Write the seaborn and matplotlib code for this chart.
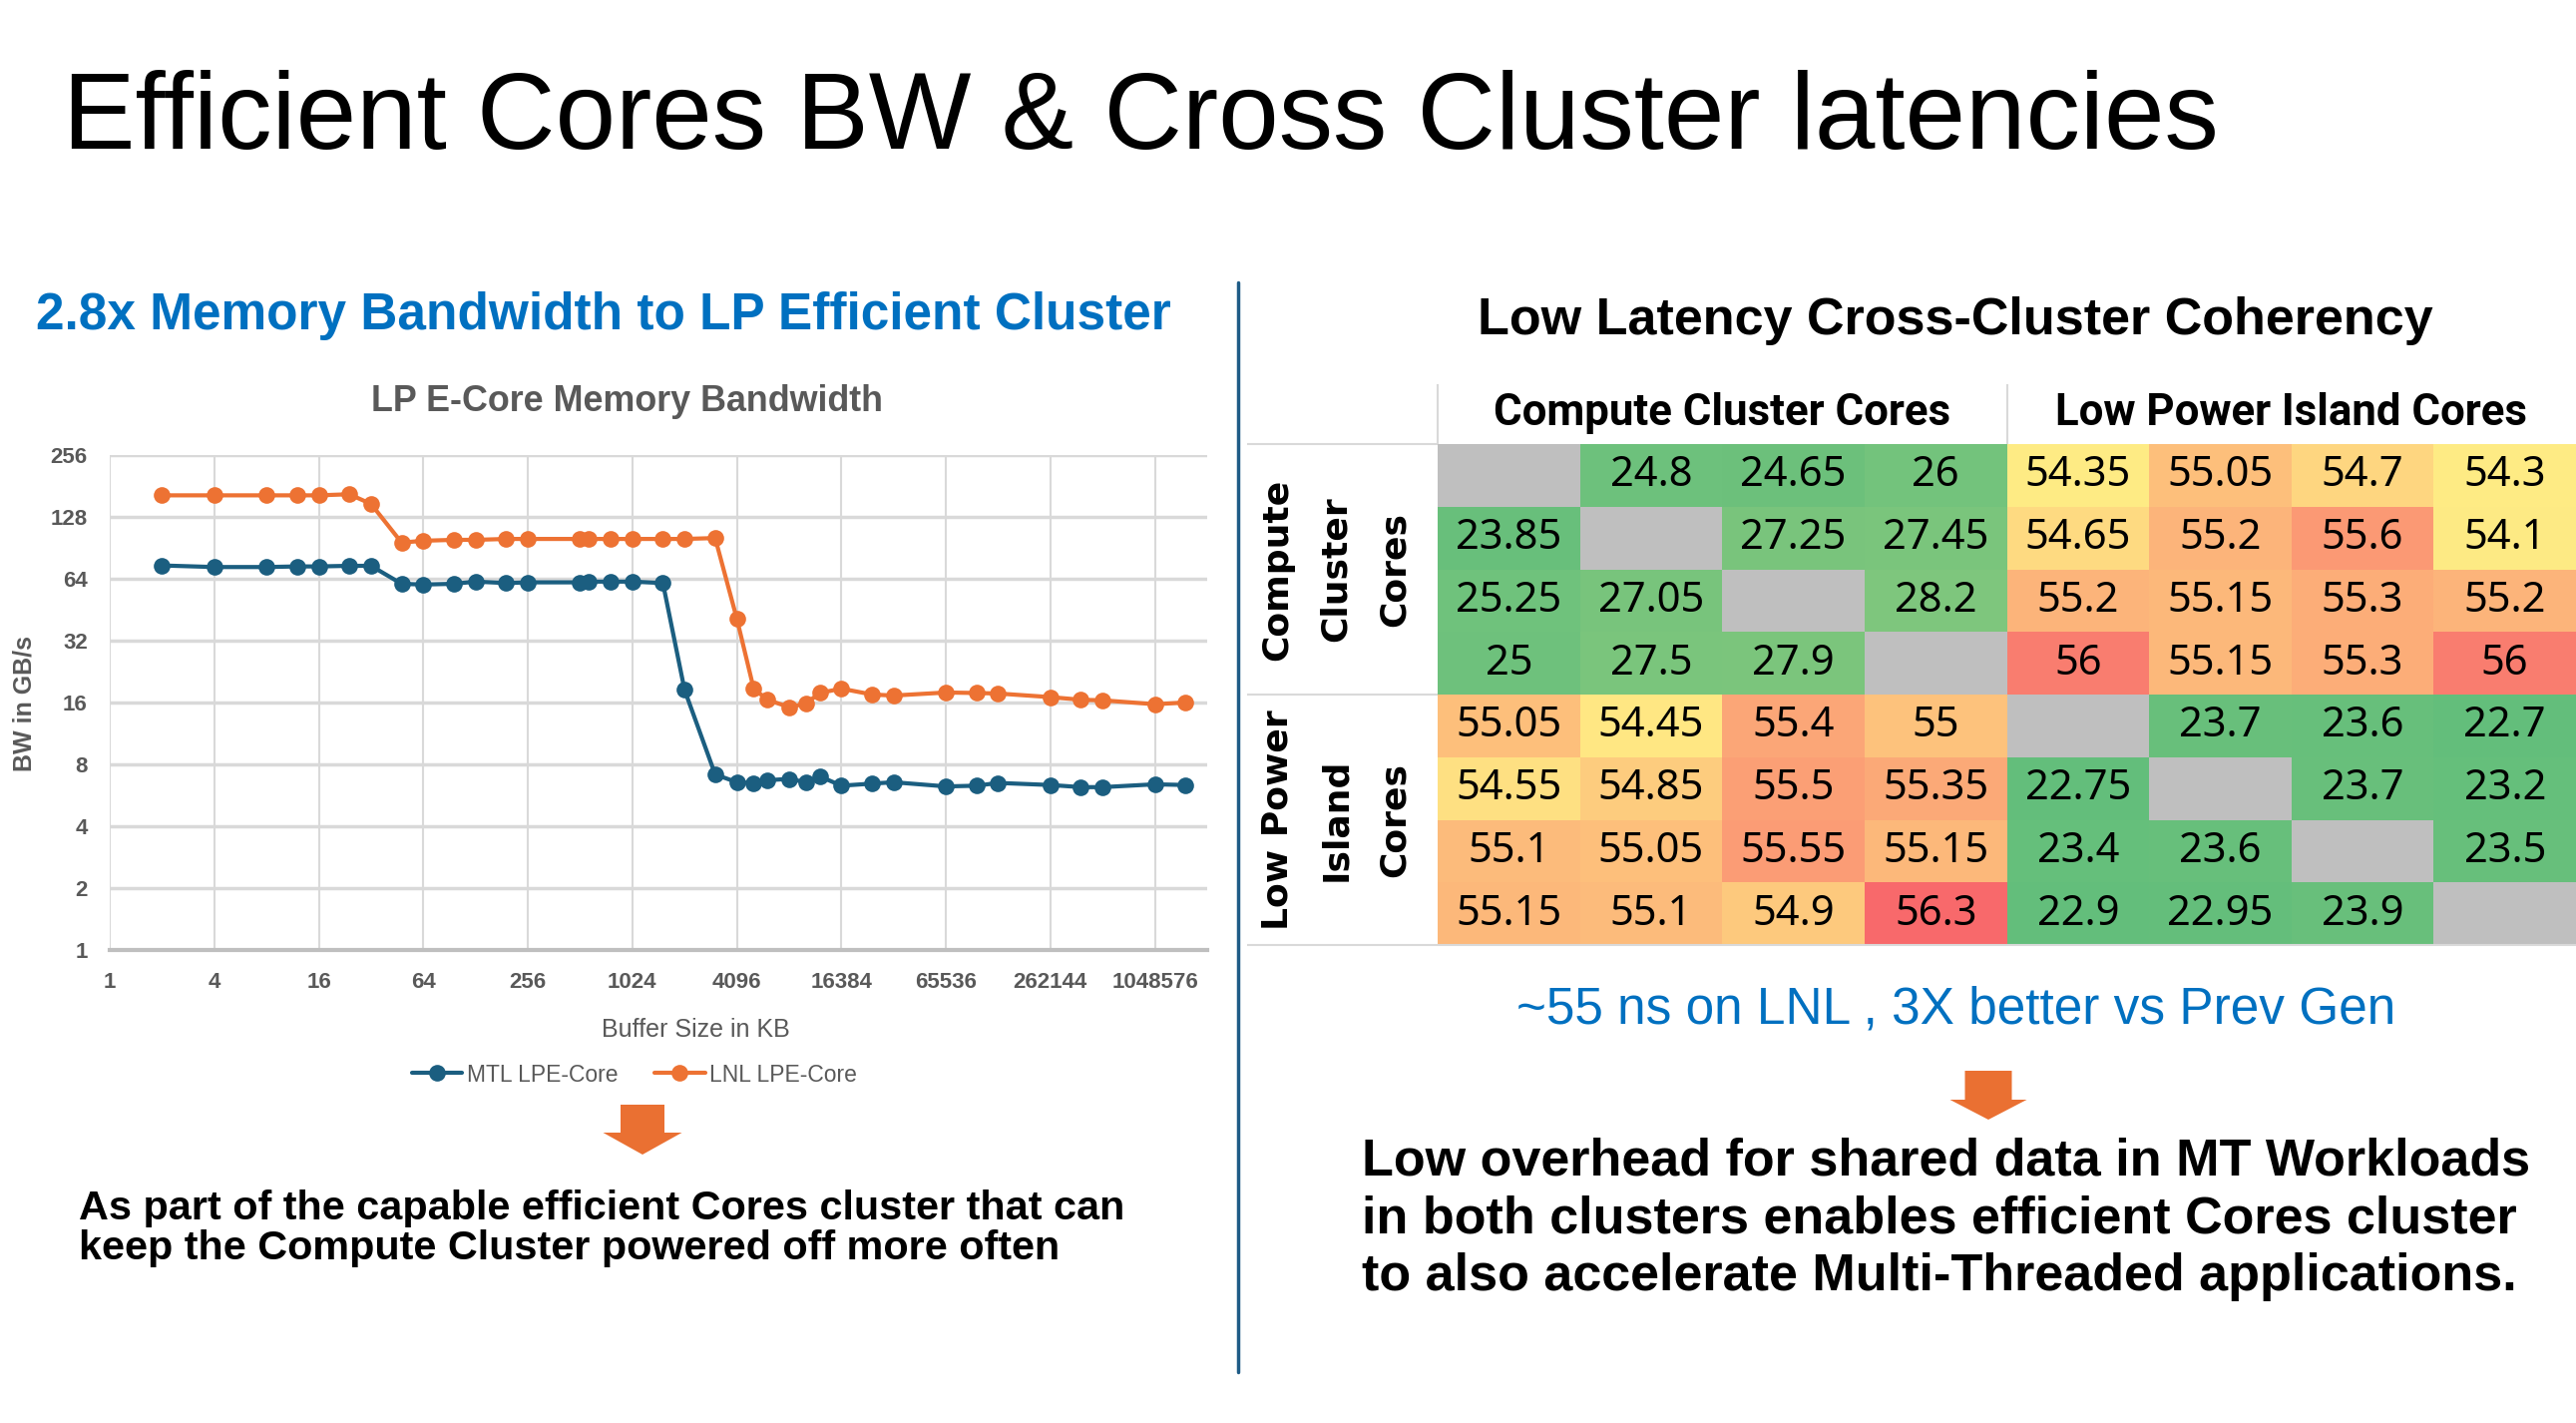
import numpy as np
import matplotlib
matplotlib.use("Agg")
import matplotlib.pyplot as plt
from matplotlib.colors import LinearSegmentedColormap, TwoSlopeNorm
from matplotlib.patches import FancyArrow
from matplotlib.ticker import NullLocator
import seaborn as sns

# --- data ---
buffer_kb = [2, 4, 8, 12, 16, 24, 32, 48, 64, 96, 128, 192, 256, 512, 576, 768,
             1024, 1536, 2048, 3072, 4096, 5120, 6144, 8192, 10240, 12288, 16384,
             24576, 32768, 65536, 98304, 131072, 262144, 393216, 524288,
             1048576, 1572864]
mtl_bw = [74.3, 73, 73, 73.5, 73.5, 74, 74, 60.5, 60, 60.5, 62, 61, 61.5, 61.5,
          62, 62, 62, 61, 18.4, 7.15, 6.55, 6.5, 6.7, 6.8, 6.55, 7.0, 6.3, 6.45,
          6.55, 6.25, 6.3, 6.5, 6.35, 6.2, 6.2, 6.4, 6.35]
lnl_bw = [163, 163, 163, 163, 163, 165, 148, 96, 98, 99, 99, 100, 100, 100, 100,
          100, 100, 100, 100, 101, 40.9, 18.7, 16.5, 15.2, 15.8, 17.8, 18.7, 17.5,
          17.3, 17.9, 17.8, 17.7, 17.0, 16.5, 16.4, 15.7, 16.0]
series_names = ["MTL LPE-Core", "LNL LPE-Core"]
x_ticks = [1, 4, 16, 64, 256, 1024, 4096, 16384, 65536, 262144, 1048576]
y_ticks = [1, 2, 4, 8, 16, 32, 64, 128, 256]

# cross-cluster latency in ns (diagonal left empty)
nan = np.nan
latency = [
    [nan, 24.8, 24.65, 26, 54.35, 55.05, 54.7, 54.3],
    [23.85, nan, 27.25, 27.45, 54.65, 55.2, 55.6, 54.1],
    [25.25, 27.05, nan, 28.2, 55.2, 55.15, 55.3, 55.2],
    [25, 27.5, 27.9, nan, 56, 55.15, 55.3, 56],
    [55.05, 54.45, 55.4, 55, nan, 23.7, 23.6, 22.7],
    [54.55, 54.85, 55.5, 55.35, 22.75, nan, 23.7, 23.2],
    [55.1, 55.05, 55.55, 55.15, 23.4, 23.6, nan, 23.5],
    [55.15, 55.1, 54.9, 56.3, 22.9, 22.95, 23.9, nan],
]
col_groups = ["Compute Cluster Cores", "Low Power Island Cores"]
row_groups = ["Compute\nCluster\nCores", "Low Power\nIsland\nCores"]
group_size = 4

BLUE = "#1B5E80"
ORANGE = "#ED7233"
GRAY_TXT = "#595959"

sns.set_theme(style="white")
plt.rcParams["font.family"] = ["Liberation Sans", "DejaVu Sans"]
plt.rcParams["text.color"] = "black"

W, H = 2582, 1426
fig = plt.figure(figsize=(W / 100, H / 100), dpi=100)
fig.patch.set_facecolor("white")

# --- left: bandwidth line chart ---
ax = fig.add_axes([110 / W, 1 - 952 / H, 1100 / W, 496 / H])
sns.lineplot(x=buffer_kb, y=mtl_bw, ax=ax, color=BLUE, marker="o",
             markersize=12, markeredgewidth=0, linewidth=3, label=series_names[0])
sns.lineplot(x=buffer_kb, y=lnl_bw, ax=ax, color=ORANGE, marker="o",
             markersize=12, markeredgewidth=0, linewidth=3, label=series_names[1])
ax.set_xscale("log", base=2)
ax.set_yscale("log", base=2)
ax.set_xlim(1, 2 ** 21)
ax.set_ylim(1, 256)
ax.set_xticks(x_ticks)
ax.set_xticklabels([str(v) for v in x_ticks])
ax.set_yticks(y_ticks)
ax.set_yticklabels([str(v) for v in y_ticks])
ax.xaxis.set_minor_locator(NullLocator())
ax.yaxis.set_minor_locator(NullLocator())
ax.grid(True, axis="x", color="#D9D9D9", lw=1.5)
ax.grid(True, axis="y", color="#D9D9D9", lw=2.5)
for s in ["top", "right", "left"]:
    ax.spines[s].set_visible(False)
ax.spines["bottom"].set_color("#BFBFBF")
ax.spines["bottom"].set_linewidth(3)
ax.set_xlabel("")
ax.set_ylabel("")
ax.tick_params(length=0, pad=16, labelsize=16, labelcolor=GRAY_TXT)
for lbl in ax.get_xticklabels() + ax.get_yticklabels():
    lbl.set_fontweight("bold")
ax.legend(loc="center", bbox_to_anchor=(636 / W, 1 - 1077 / H),
          bbox_transform=fig.transFigure, ncol=2, frameon=False, fontsize=16.5,
          labelcolor=GRAY_TXT, handlelength=2.2, columnspacing=1.6,
          handletextpad=0.2)

fig.text(629 / W, 1 - 412 / H, "LP E-Core Memory Bandwidth", ha="center",
         va="baseline", fontsize=25.8, fontweight="bold", color=GRAY_TXT)
fig.text(697 / W, 1 - 1032 / H, "Buffer Size in KB", ha="center", va="center",
         fontsize=18, color=GRAY_TXT)
fig.text(25 / W, 1 - 705 / H, "BW in GB/s", ha="center", va="center",
         rotation=90, fontsize=18, fontweight="bold", color=GRAY_TXT)

# --- right: latency heatmap ---
ax2 = fig.add_axes([1441 / W, 1 - 947 / H, 1141 / W, 502 / H])
ax2.set_facecolor("#BFBFBF")
cmap = LinearSegmentedColormap.from_list("rag", ["#63BE7B", "#FFEB84", "#F8696B"])
norm = TwoSlopeNorm(vmin=22.7, vcenter=54.4, vmax=56.3)
sns.heatmap(np.array(latency, dtype=float), ax=ax2, cmap=cmap, norm=norm,
            annot=True, fmt="g", cbar=False, xticklabels=False,
            yticklabels=False,
            annot_kws=dict(fontsize=30, color="black", family="Noto Sans"))

for i, name in enumerate(col_groups):
    ax2.text(group_size * i + group_size / 2, -0.5, name, ha="center",
             va="center", fontsize=31.5, fontweight="bold",
             family=["Roboto", "DejaVu Sans"], color="black")
for i, name in enumerate(row_groups):
    ax2.text(-0.715, group_size * i + group_size / 2, name, rotation=90,
             ha="center", va="center", multialignment="center", fontsize=26,
             fontweight="bold", family="DejaVu Sans", linespacing=1.9,
             color="black")

rule = dict(color="#D9D9D9", lw=1.5, clip_on=False)
ax2.vlines([0, group_size], -0.96, 0, **rule)
ax2.hlines([0, group_size], -1.34, 0, **rule)
ax2.hlines([2 * group_size], -1.34, 2 * group_size, **rule)

# --- slide text ---
fig.text(63 / W, 1 - 149 / H, "Efficient Cores BW & Cross Cluster latencies",
         fontsize=78.3, va="baseline", ha="left", color="black")
fig.text(36 / W, 1 - 330 / H, "2.8x Memory Bandwidth to LP Efficient Cluster",
         fontsize=37, fontweight="bold", color="#0070C0", va="baseline")
fig.text(1960 / W, 1 - 335 / H, "Low Latency Cross-Cluster Coherency",
         fontsize=37.5, fontweight="bold", color="black", va="baseline",
         ha="center")
fig.text(1961 / W, 1 - 1026 / H, "~55 ns on LNL , 3X better vs Prev Gen",
         fontsize=37, color="#0070C0", va="baseline", ha="center")

left_lines = ["As part of the capable efficient Cores cluster that can",
              "keep the Compute Cluster powered off more often"]
for line, base in zip(left_lines, [1222, 1262]):
    fig.text(79 / W, 1 - base / H, line, fontsize=29.8, fontweight="bold",
             va="baseline", color="black")
right_lines = ["Low overhead for shared data in MT Workloads",
               "in both clusters enables efficient Cores cluster",
               "to also accelerate Multi-Threaded applications."]
for line, base in zip(right_lines, [1177, 1235, 1293]):
    fig.text(1365 / W, 1 - base / H, line, fontsize=37.5, fontweight="bold",
             va="baseline", color="black")

# divider and arrows
fig.add_artist(plt.Line2D([1241 / W, 1241 / W], [1 - 283 / H, 1 - 1375 / H],
                          color="#1F5C87", lw=2.5))
for x, top, width, hw, length, hl in [(6.44, 3.19, 0.44, 0.79, 0.50, 0.22),
                                      (19.93, 3.53, 0.47, 0.77, 0.49, 0.20)]:
    fig.add_artist(FancyArrow(x, top, 0, -length, width=width, head_width=hw,
                              head_length=hl, length_includes_head=True,
                              color="#EA7032", lw=0,
                              transform=fig.dpi_scale_trans))

fig.savefig("out.png", dpi=100)
